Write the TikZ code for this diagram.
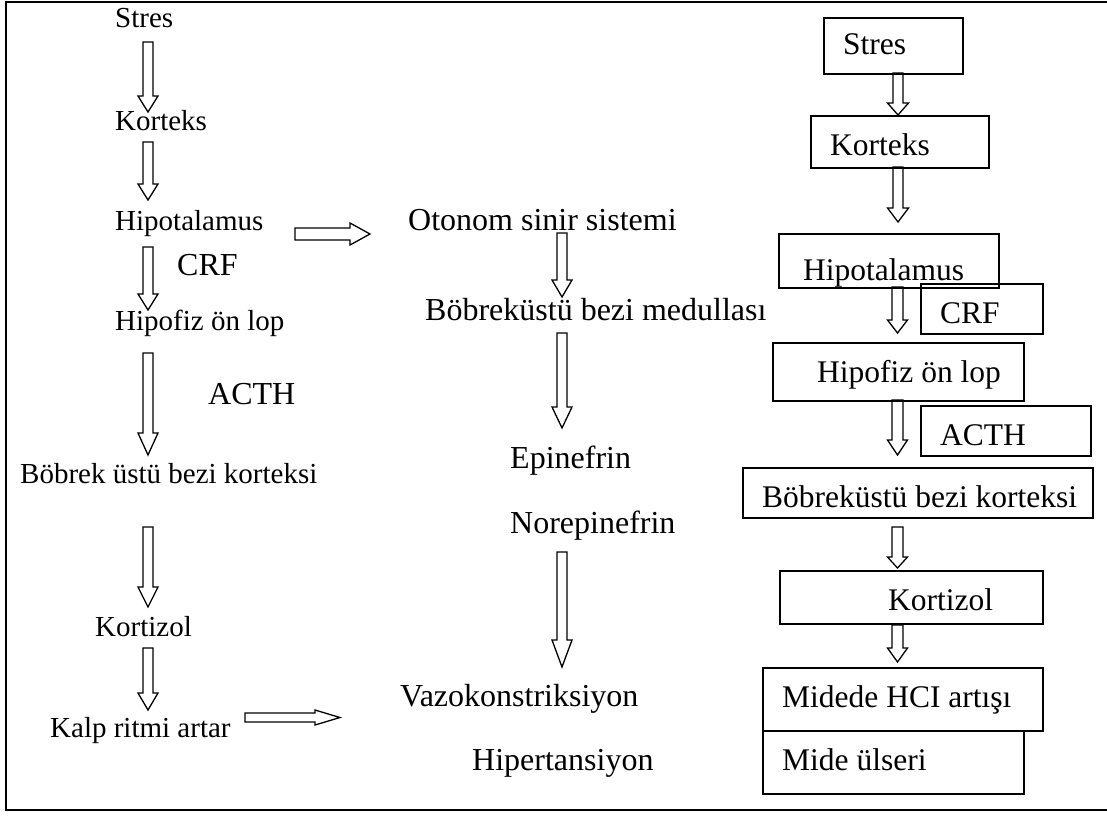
\documentclass[tikz,border=0pt]{standalone}
\usepackage{fontspec}
\setmainfont{Liberation Serif}
\usetikzlibrary{calc}
\tikzset{
  blk/.code args={#1/#2/#3}{\def\bsw{#1}\def\bhw{#2}\def\bhl{#3}},
  blk=5pt/10pt/16pt,
  arr/.style={line width=1.3pt, line join=miter},
  downarrow/.style={to path={
    let \p1=(\tikztostart), \p2=(\tikztotarget) in
    (\x1-\bsw,\y1) -- (\x1-\bsw,\y2+\bhl) -- (\x1-\bhw,\y2+\bhl) -- (\x1,\y2)
    -- (\x1+\bhw,\y2+\bhl) -- (\x1+\bsw,\y2+\bhl) -- (\x1+\bsw,\y1) -- cycle}},
  rightarrow/.style={to path={
    let \p1=(\tikztostart), \p2=(\tikztotarget) in
    (\x1,\y1+\bsw) -- (\x2-\bhl,\y1+\bsw) -- (\x2-\bhl,\y1+\bhw) -- (\x2,\y1)
    -- (\x2-\bhl,\y1-\bhw) -- (\x2-\bhl,\y1-\bsw) -- (\x1,\y1-\bsw) -- cycle}},
  ltxt/.style={anchor=base west, inner sep=0pt, font=\fontsize{29}{33}\selectfont},
  btxt/.style={anchor=base west, inner sep=0pt, font=\fontsize{32}{36}\selectfont},
  mtxt/.style={anchor=base west, inner sep=0pt, font=\fontsize{32}{36}\selectfont},
  rtxt/.style={anchor=base west, inner sep=0pt, font=\fontsize{31.5}{36}\selectfont},
  box/.style={draw, line width=1.8pt, anchor=north west, inner sep=0pt}
}
\begin{document}
\begin{tikzpicture}[x=1pt,y=-1pt]
\useasboundingbox (0,0) rectangle (1107,816);
% frame
\draw[line width=2.6pt] (1107,2) -- (6,2) -- (6,810) -- (1107,810);

% ---------- left column ----------
\node[ltxt] (lStres) at (115,28) {Stres};
\node[ltxt] (lKort) at (115,130) {Korteks};
\node[ltxt] (lHipo) at (115,230) {Hipotalamus};
\node[btxt] (lCRF) at (177,275) {CRF};
\node[ltxt] (lHipof) at (115,330) {Hipofiz ön lop};
\node[btxt] (lACTH) at (208,404) {ACTH};
\node[ltxt] (lBob) at (20,483) {Böbrek üstü bezi korteksi};
\node[ltxt] (lKortiz) at (95,636) {Kortizol};
\node[ltxt] (lKalp) at (50,737) {Kalp ritmi artar};

\coordinate (la1s) at (148,42);  \coordinate (la1e) at (148,112);
\coordinate (la2s) at (148,142); \coordinate (la2e) at (148,200);
\coordinate (la3s) at (148,247); \coordinate (la3e) at (148,310);
\coordinate (la4s) at (148,353); \coordinate (la4e) at (148,455);
\coordinate (la5s) at (148,527); \coordinate (la5e) at (148,607);
\coordinate (la6s) at (148,648); \coordinate (la6e) at (148,710);
\draw[arr, blk=5pt/10pt/16pt] (la1s) to[downarrow] (la1e);
\draw[arr, blk=5pt/10pt/16pt] (la2s) to[downarrow] (la2e);
\draw[arr, blk=5pt/10pt/16pt] (la3s) to[downarrow] (la3e);
\draw[arr, blk=5pt/10pt/22pt] (la4s) to[downarrow] (la4e);
\draw[arr, blk=5pt/10pt/20pt] (la5s) to[downarrow] (la5e);
\draw[arr, blk=5pt/10pt/17pt] (la6s) to[downarrow] (la6e);

\coordinate (lh1s) at (295,234); \coordinate (lh1e) at (370,234);
\draw[arr, blk=6pt/11pt/20pt] (lh1s) to[rightarrow] (lh1e);
\coordinate (lh2s) at (245,717.5); \coordinate (lh2e) at (340,717.5);
\draw[arr, blk=4.5pt/7.5pt/25pt] (lh2s) to[rightarrow] (lh2e);

% ---------- middle column ----------
\node[mtxt] (mOto) at (408,230) {Otonom sinir sistemi};
\node[mtxt] (mMed) at (425,320) {Böbreküstü bezi medullası};
\node[mtxt] (mEpi) at (510,468) {Epinefrin};
\node[mtxt] (mNor) at (510,533) {Norepinefrin};
\node[mtxt] (mVazo) at (400,706) {Vazokonstriksiyon};
\node[mtxt] (mHiper) at (472,770) {Hipertansiyon};

\coordinate (ma1s) at (562,233); \coordinate (ma1e) at (562,297);
\coordinate (ma2s) at (562,333); \coordinate (ma2e) at (562,428);
\coordinate (ma3s) at (562,552); \coordinate (ma3e) at (562,667);
\draw[arr, blk=5pt/10pt/17pt] (ma1s) to[downarrow] (ma1e);
\draw[arr, blk=5pt/10pt/21pt] (ma2s) to[downarrow] (ma2e);
\draw[arr, blk=5pt/10pt/27pt] (ma3s) to[downarrow] (ma3e);

% ---------- right column ----------
\node[box, minimum width=139pt, minimum height=56pt] (rbStres) at (823,17) {};
\node[rtxt] (rStres) at (843,55) {Stres};
\node[box, minimum width=178pt, minimum height=52pt] (rbKort) at (810,115) {};
\node[rtxt] (rKort) at (830,155) {Korteks};
\node[box, minimum width=220pt, minimum height=54pt] (rbHipo) at (778,233) {};
\node[rtxt] (rHipo) at (803,280) {Hipotalamus};
\node[box, minimum width=122pt, minimum height=50pt] (rbCRF) at (920,283) {};
\node[rtxt] (rCRF) at (940,323) {CRF};
\node[box, minimum width=251pt, minimum height=58pt] (rbHipof) at (772,342) {};
\node[rtxt] (rHipof) at (817,382) {Hipofiz ön lop};
\node[box, minimum width=170pt, minimum height=50pt] (rbACTH) at (920,405) {};
\node[rtxt] (rACTH) at (940,445) {ACTH};
\node[box, minimum width=350pt, minimum height=50pt] (rbBob) at (742,467) {};
\node[rtxt] (rBob) at (762,507) {Böbreküstü bezi korteksi};
\node[box, minimum width=263pt, minimum height=53pt] (rbKortiz) at (779,570) {};
\node[rtxt] (rKortiz) at (888,610) {Kortizol};
\node[box, minimum width=280pt, minimum height=63pt] (rbMidede) at (762,667) {};
\node[rtxt] (rMidede) at (782,707) {Midede HCI artışı};
\node[box, minimum width=261pt, minimum height=63pt] (rbUlser) at (762,730) {};
\node[rtxt] (rUlser) at (782,770) {Mide ülseri};

\coordinate (ra1s) at (898,73);  \coordinate (ra1e) at (898,115);
\coordinate (ra2s) at (898,167); \coordinate (ra2e) at (898,222);
\coordinate (ra3s) at (897.5,287); \coordinate (ra3e) at (897.5,333);
\coordinate (ra4s) at (897.5,400); \coordinate (ra4e) at (897.5,455);
\coordinate (ra5s) at (897.5,527); \coordinate (ra5e) at (897.5,568);
\coordinate (ra6s) at (897.5,625); \coordinate (ra6e) at (897.5,662);
\draw[arr, blk=5pt/10.5pt/12pt] (ra1s) to[downarrow] (ra1e);
\draw[arr, blk=5pt/10.5pt/14pt] (ra2s) to[downarrow] (ra2e);
\draw[arr, blk=5.5pt/10pt/13pt] (ra3s) to[downarrow] (ra3e);
\draw[arr, blk=5.5pt/10pt/15pt] (ra4s) to[downarrow] (ra4e);
\draw[arr, blk=5.5pt/10pt/11pt] (ra5s) to[downarrow] (ra5e);
\draw[arr, blk=5.5pt/10pt/14pt] (ra6s) to[downarrow] (ra6e);
\end{tikzpicture}
\end{document}
